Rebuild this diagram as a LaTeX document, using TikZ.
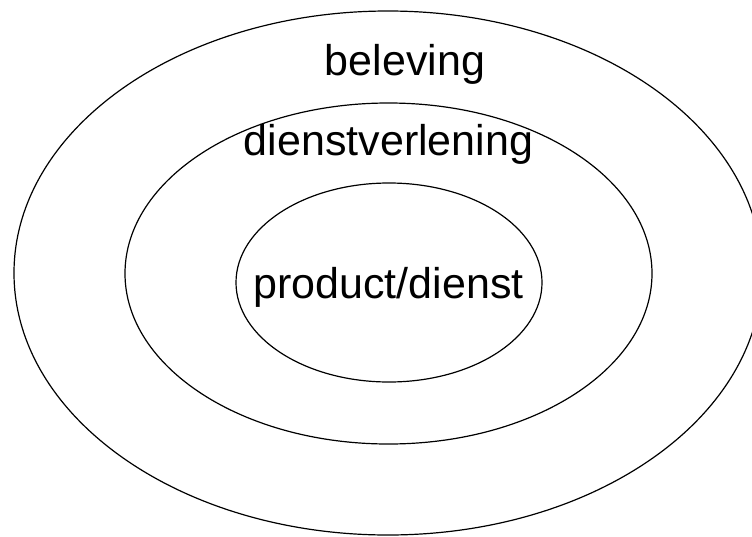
\documentclass[tikz,border=0pt]{standalone}
\usepackage{fontspec}
\setmainfont{Liberation Sans}
\begin{document}
\begin{tikzpicture}[x=1pt,y=-1pt,
  ring/.style={draw=black,line width=1.2pt},
  lbl/.style={anchor=base,inner sep=0pt,font=\fontsize{43}{50}\selectfont}]
\useasboundingbox (0,0) rectangle (752,536);
\clip (0,0) rectangle (752,536);
\draw[ring] (388,273) ellipse [x radius=374, y radius=262];
\draw[ring] (388.5,273.5) ellipse [x radius=263.5, y radius=170.5];
\draw[ring] (389,282.5) ellipse [x radius=153, y radius=99.5];
\node[lbl] (beleving) at (405,75) {beleving};
\node[lbl] (dienstverlening) at (388.5,155) {dienstverlening};
\node[lbl] (product) at (388.5,298) {product/dienst};
\end{tikzpicture}
\end{document}
